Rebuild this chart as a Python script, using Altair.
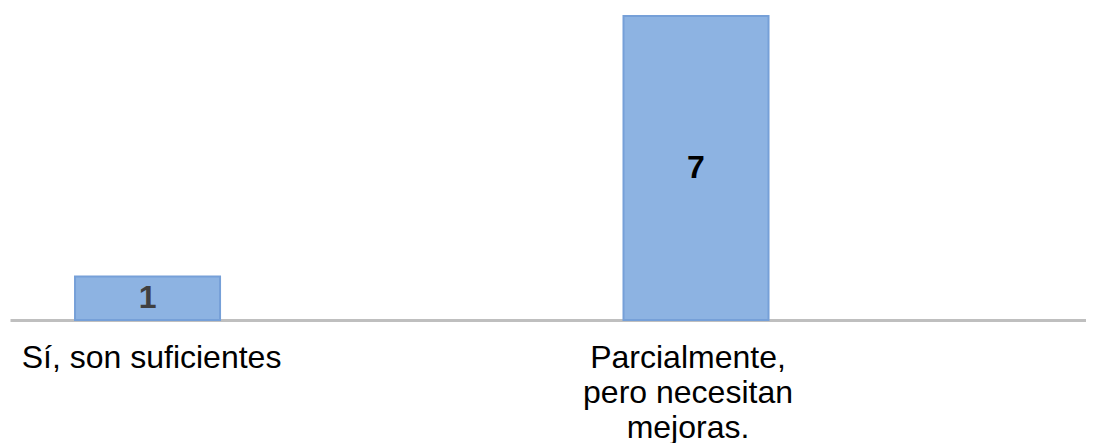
import altair as alt
import pandas as pd

categories = ["Sí, son suficientes", "Parcialmente,\npero necesitan\nmejoras."]
values = [1, 7]
label_colors = ["#404040", "#000000"]

df = pd.DataFrame({"cat": categories, "val": values, "lc": label_colors})

x_enc = alt.X(
    "cat:N",
    sort=categories,
    title=None,
    scale=alt.Scale(paddingInner=0.7356, paddingOuter=0.3487, align=0.170),
    axis=alt.Axis(
        labelAngle=0,
        labelFont="Liberation Sans",
        labelFontSize=32,
        labelColor="#000000",
        labelLineHeight=35,
        labelPadding=22,
        labelBaseline="top",
        labelLimit=1000,
        labelOffset=alt.condition(
            "indexof(datum.label, 'Sí') == 0", alt.value(4), alt.value(-8)
        ),
        ticks=False,
        domainColor="#BFBFBF",
        domainWidth=3,
        grid=False,
        labelExpr="split(datum.label, '\\n')",
    ),
)

y_scale = alt.Scale(domain=[0, 7.184], nice=False, zero=True)

bars = alt.Chart(df).mark_bar(
    color="#8DB3E2", stroke="#76A0D8", strokeWidth=2
).encode(
    x=x_enc,
    y=alt.Y("val:Q", scale=y_scale, axis=None),
)

text = alt.Chart(df).transform_calculate(mid="datum.val / 2").mark_text(
    font="Liberation Sans", fontSize=32, fontWeight="bold", baseline="middle"
).encode(
    x=alt.X("cat:N", sort=categories),
    y=alt.Y("mid:Q", scale=y_scale, axis=None),
    text=alt.Text("val:Q"),
    color=alt.Color("lc:N", scale=None),
)

chart = (
    alt.layer(bars, text)
    .properties(
        width=1076,
        height=312,
        padding={"left": 2, "top": 0, "right": 0, "bottom": 0},
    )
    .configure_view(stroke=None)
)

chart.save("out.html", embed_options={"renderer": "svg", "actions": False})
